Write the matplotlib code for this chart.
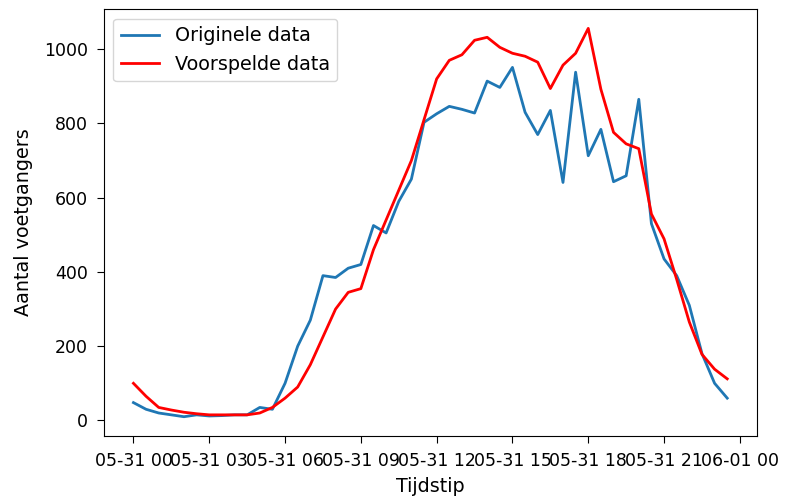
import numpy as np
import pandas as pd
import matplotlib
matplotlib.use("Agg")
import matplotlib.pyplot as plt
import matplotlib.dates as mdates

tijdstip = pd.date_range("2021-05-31 00:00", periods=48, freq="30min")

origineel = [48, 30, 20, 15, 10, 15, 12, 13, 15, 15, 35, 30,
             100, 200, 270, 390, 385, 410, 420, 525, 505, 590, 650, 803,
             826, 846, 838, 828, 914, 897, 951, 830, 770, 835, 641, 938,
             713, 784, 643, 659, 865, 530, 435, 390, 310, 180, 100, 60]

voorspeld = [100, 65, 35, 28, 22, 18, 15, 15, 15, 15, 20, 35,
             60, 90, 150, 225, 300, 345, 355, 460, 540, 620, 700, 810,
             920, 970, 985, 1024, 1032, 1005, 989, 981, 965, 894, 957, 989,
             1056, 892, 776, 745, 732, 556, 489, 380, 265, 178, 138, 112]

plt.rcParams['font.size'] = 12.5

fig = plt.figure(figsize=(7.86, 4.99), dpi=100)
ax = fig.add_axes([0.132, 0.126, 0.831, 0.856])

ax.plot(tijdstip, origineel, color='#1f77b4', lw=2, label='Originele data')
ax.plot(tijdstip, voorspeld, color='red', lw=2, label='Voorspelde data')

ax.xaxis.set_major_locator(mdates.HourLocator(byhour=range(0, 24, 3)))
ax.xaxis.set_major_formatter(mdates.DateFormatter('%m-%d %H'))
ax.tick_params(length=5, pad=6.5)
ax.set_xlabel('Tijdstip', fontsize=13.8, labelpad=5)
ax.set_ylabel('Aantal voetgangers', fontsize=13.8, labelpad=8)
ax.legend(loc='upper left', fontsize=13.8)

fig.savefig('out.png', dpi=100)
